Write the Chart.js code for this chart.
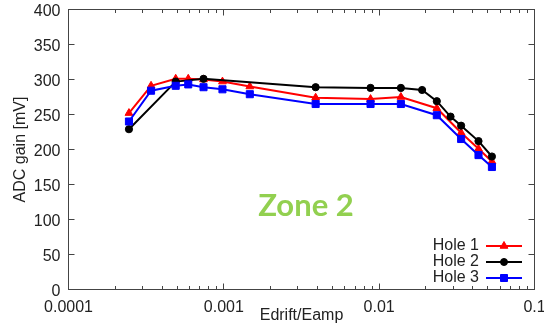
<!DOCTYPE html>
<html>
<head>
<meta charset="utf-8">
<script src="https://cdn.jsdelivr.net/npm/chart.js@4/dist/chart.umd.min.js"></script>
<style>
  html, body { margin: 0; padding: 0; background: #fff; }
  #wrap { width: 544px; height: 326px; }
</style>
</head>
<body>
<div id="wrap"><canvas id="c" width="544" height="326"></canvas></div>
<script>
// Field ratio (Edrift/Eamp) and measured ADC gain for each hole
const hole1X = [2.45e-4, 3.4e-4, 4.9e-4, 5.9e-4, 7.4e-4, 9.8e-4, 1.47e-3, 3.9e-3, 8.8e-3, 1.38e-2, 2.35e-2, 3.37e-2, 4.36e-2, 5.32e-2];
const hole1Y = [252, 291, 301, 301, 300, 297, 290, 274, 272, 275, 259, 224, 201, 183];

const hole2X = [2.45e-4, 4.9e-4, 7.4e-4, 3.9e-3, 8.8e-3, 1.38e-2, 1.89e-2, 2.35e-2, 2.88e-2, 3.37e-2, 4.36e-2, 5.32e-2];
const hole2Y = [229, 297, 301, 289, 288, 288, 285, 269, 247, 234, 212, 190];

const hole3X = [2.45e-4, 3.4e-4, 4.9e-4, 5.9e-4, 7.4e-4, 9.8e-4, 1.47e-3, 3.9e-3, 8.8e-3, 1.38e-2, 2.35e-2, 3.37e-2, 4.36e-2, 5.32e-2];
const hole3Y = [240, 284, 291, 293, 289, 286, 279, 265, 265, 265, 249, 215, 192, 175];

const seriesNames = ['Hole 1', 'Hole 2', 'Hole 3'];

// Axis ticks
const xTickValues = [1e-4, 1e-3, 1e-2, 1e-1];
const xTickLabels = ['0.0001', '0.001', '0.01', '0.1'];
const yTickValues = [0, 50, 100, 150, 200, 250, 300, 350, 400];

const zoneLabel = 'Zone 2';

const toPoints = (xs, ys) => xs.map((x, i) => ({ x: x, y: ys[i] }));

const FONT = "'Liberation Sans', Arial, sans-serif";
const TEXT = '#222';
const FRAME = '#444';

// Frame with inward ticks on all four sides (log minor ticks on x)
const frameTicks = {
  id: 'frameTicks',
  beforeDatasetsDraw(chart) {
    const { ctx, chartArea: a, scales: { x, y } } = chart;
    ctx.save();
    ctx.strokeStyle = FRAME;
    ctx.lineWidth = 1;
    ctx.strokeRect(a.left, a.top, a.right - a.left, a.bottom - a.top);
    ctx.beginPath();
    for (const v of yTickValues) {
      const py = Math.round(y.getPixelForValue(v) - 0.5) + 0.5;
      ctx.moveTo(a.left, py); ctx.lineTo(a.left + 6, py);
      ctx.moveTo(a.right, py); ctx.lineTo(a.right - 6, py);
    }
    for (let d = -4; d <= -2; d++) {
      for (let m = 1; m <= 9; m++) {
        const v = m * Math.pow(10, d);
        const len = m === 1 ? 6 : 3.5;
        const px = Math.round(x.getPixelForValue(v) - 0.5) + 0.5;
        ctx.moveTo(px, a.bottom); ctx.lineTo(px, a.bottom - len);
        ctx.moveTo(px, a.top); ctx.lineTo(px, a.top + len);
      }
    }
    ctx.stroke();
    ctx.restore();
  }
};

function drawMarker(ctx, style, cx, cy, color) {
  ctx.fillStyle = color;
  ctx.strokeStyle = color;
  ctx.beginPath();
  if (style === 'triangle') {
    const r = 4.5;
    ctx.moveTo(cx, cy - r);
    ctx.lineTo(cx + r * 0.866, cy + r * 0.5);
    ctx.lineTo(cx - r * 0.866, cy + r * 0.5);
    ctx.closePath();
  } else if (style === 'rect') {
    const h = 3.5;
    ctx.rect(cx - h, cy - h, 2 * h, 2 * h);
  } else {
    ctx.arc(cx, cy, 3.5, 0, Math.PI * 2);
  }
  ctx.fill();
  ctx.stroke();
}

// Key in the lower right corner: label, then line sample with marker
const insideKey = {
  id: 'insideKey',
  afterDatasetsDraw(chart) {
    const { ctx, chartArea: a } = chart;
    const rows = [a.bottom - 43.5, a.bottom - 27.5, a.bottom - 11.5];
    const lineStart = a.right - 48.5, lineEnd = a.right - 12.5;
    const textRight = a.right - 55.5;
    ctx.save();
    chart.data.datasets.forEach((ds, i) => {
      const yy = rows[i];
      ctx.font = '16px ' + FONT;
      ctx.fillStyle = TEXT;
      ctx.textAlign = 'right';
      ctx.textBaseline = 'middle';
      ctx.fillText(ds.label, textRight, yy);
      ctx.strokeStyle = ds.borderColor;
      ctx.lineWidth = 2;
      ctx.beginPath();
      ctx.moveTo(lineStart, yy); ctx.lineTo(lineEnd, yy);
      ctx.stroke();
      ctx.lineWidth = 1;
      drawMarker(ctx, ds.pointStyle, (lineStart + lineEnd) / 2, yy, ds.borderColor);
    });
    ctx.restore();
  }
};

// Zone caption placed in data coordinates
const zoneCaption = {
  id: 'zoneCaption',
  afterDatasetsDraw(chart) {
    const { ctx, scales: { x, y } } = chart;
    ctx.save();
    ctx.font = "bold 31px Lato, 'Open Sans', sans-serif";
    ctx.fillStyle = '#92d050';
    ctx.textAlign = 'center';
    ctx.textBaseline = 'alphabetic';
    ctx.fillText(zoneLabel, x.getPixelForValue(0.00338), y.getPixelForValue(105));
    ctx.restore();
  }
};

const colors = ['#ff0000', '#000000', '#0000ff'];
const styles = ['triangle', 'circle', 'rect'];
const radii = [4.5, 3.6, 5];
const xs = [hole1X, hole2X, hole3X];
const ys = [hole1Y, hole2Y, hole3Y];

const datasets = seriesNames.map((name, i) => ({
  label: name,
  data: toPoints(xs[i], ys[i]),
  borderColor: colors[i],
  backgroundColor: colors[i],
  borderWidth: 2,
  pointStyle: styles[i],
  pointRadius: radii[i],
  pointBorderWidth: 1,
  pointBackgroundColor: colors[i],
  pointBorderColor: colors[i],
  tension: 0,
  fill: false,
  order: 3 - i
}));

// Fixed axis box sizes, no extra edge padding for overhanging labels
function zeroPad(scale) {
  scale.paddingLeft = 0; scale.paddingRight = 0;
  scale.paddingTop = 0; scale.paddingBottom = 0;
}

new Chart(document.getElementById('c'), {
  type: 'line',
  data: { datasets: datasets },
  options: {
    responsive: false,
    animation: false,
    devicePixelRatio: 1,
    layout: { padding: { top: 9.5, right: 9.5, left: 0, bottom: 0 } },
    plugins: { legend: { display: false }, tooltip: { enabled: false } },
    scales: {
      x: {
        type: 'logarithmic',
        min: 1e-4,
        max: 1e-1,
        grid: { display: false, drawTicks: false },
        border: { display: false },
        afterBuildTicks(scale) { scale.ticks = xTickValues.map(v => ({ value: v })); },
        afterFit(scale) { scale.height = 36.5; zeroPad(scale); },
        ticks: {
          autoSkip: false,
          maxRotation: 0,
          padding: 8,
          color: TEXT,
          font: { family: FONT, size: 16 },
          callback(value) {
            const k = xTickValues.findIndex(t => Math.abs(t - value) / t < 1e-6);
            return k >= 0 ? xTickLabels[k] : '';
          }
        },
        title: {
          display: true,
          text: 'Edrift/Eamp',
          color: TEXT,
          font: { family: FONT, size: 16 },
          padding: { top: 0, bottom: 1 }
        }
      },
      y: {
        min: 0,
        max: 400,
        grid: { display: false, drawTicks: false },
        border: { display: false },
        afterBuildTicks(scale) { scale.ticks = yTickValues.map(v => ({ value: v })); },
        afterFit(scale) { scale.width = 68.5; zeroPad(scale); },
        ticks: {
          padding: 8,
          labelOffset: 2,
          color: TEXT,
          font: { family: FONT, size: 16 }
        },
        title: {
          display: true,
          text: 'ADC gain [mV]',
          color: TEXT,
          font: { family: FONT, size: 16 },
          padding: { top: 11, bottom: 0 }
        }
      }
    }
  },
  plugins: [frameTicks, insideKey, zoneCaption]
});
</script>
</body>
</html>
